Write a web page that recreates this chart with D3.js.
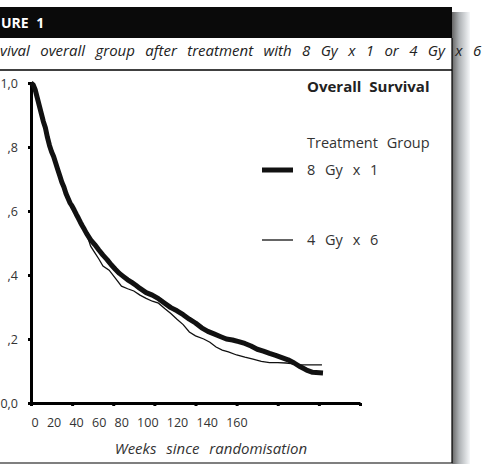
<!DOCTYPE html>
<html>
<head>
<meta charset="utf-8">
<script src="https://cdn.jsdelivr.net/npm/d3@7"></script>
<style>
  body { margin: 0; background: #fff; }
  svg { display: block; font-family: "Open Sans", sans-serif; }
</style>
</head>
<body>
<script>
let width = 490
let height = 464

// 8 Gy x 1 (thick line)
let weeks8 = [0,1,2,3,4,5,6,7,8,9,10,11,12,13,14,15,16,17,18,19,20,21,22,23,24,25,26,27,28,29,31,33,35,37,39,41,43,45,47,49,51,53,56,59,62,65,68,71,74,77,80,83,86,89,92,95,98,101,104,107,110,113,116,119,122,125,128,131,134,137,142]
let surv8 = [1.0,0.995,0.98,0.955,0.93,0.905,0.88,0.86,0.83,0.805,0.785,0.77,0.75,0.73,0.71,0.69,0.675,0.655,0.64,0.625,0.615,0.603,0.59,0.578,0.565,0.553,0.542,0.53,0.52,0.51,0.495,0.478,0.462,0.448,0.432,0.418,0.405,0.395,0.385,0.377,0.368,0.358,0.345,0.337,0.326,0.312,0.298,0.288,0.276,0.262,0.25,0.235,0.224,0.216,0.208,0.2,0.197,0.192,0.186,0.178,0.168,0.162,0.155,0.149,0.142,0.135,0.125,0.113,0.103,0.096,0.094]

// 4 Gy x 6 (thin line)
let weeks4 = [0,1,2,3,4,5,6,7,8,9,10,11,12,13,14,15,16,17,18,19,20,21,22,23,24,25,26,27,29,31,33,35,38,41,44,47,50,53,56,59,62,65,68,71,74,77,80,84,87,90,93,96,100,104,108,112,116,120,124,128,131,136,141.5]
let surv4 = [1.0,0.995,0.98,0.955,0.93,0.905,0.88,0.86,0.83,0.805,0.785,0.77,0.75,0.73,0.71,0.69,0.675,0.655,0.64,0.625,0.615,0.603,0.59,0.578,0.565,0.553,0.542,0.53,0.49,0.47,0.45,0.428,0.415,0.39,0.365,0.357,0.35,0.337,0.327,0.318,0.312,0.295,0.28,0.262,0.245,0.222,0.21,0.2,0.19,0.175,0.165,0.16,0.15,0.143,0.137,0.13,0.126,0.126,0.125,0.122,0.119,0.119,0.119]

let yTicks = [0, 0.2, 0.4, 0.6, 0.8, 1.0]
let yLabels = ["0,0", ",2", ",4", ",6", ",8", "1,0"]
let xTicks = [0, 20, 40, 60, 80, 100, 120, 140, 160]
let xLabels = ["0", "20", "40", "60", "80", "100", "120", "140", "160"]
let seriesNames = ["8 Gy x 1", "4 Gy x 6"]

let svg = d3.select("body")
    .append("svg")
    .attr("width", width)
    .attr("height", height)

// drop shadow on the right
let defs = svg.append("defs")
let grad = defs.append("linearGradient").attr("id", "shade")
grad.append("stop").attr("offset", "0%").attr("stop-color", "#666")
grad.append("stop").attr("offset", "40%").attr("stop-color", "#aeb2b5")
grad.append("stop").attr("offset", "100%").attr("stop-color", "#f6f8fa")

svg.append("rect")
    .attr("x", 452).attr("y", 12)
    .attr("width", 18).attr("height", height - 12)
    .attr("fill", "url(#shade)")

// header bar
svg.append("rect")
    .attr("x", 0).attr("y", 7)
    .attr("width", 452).attr("height", 31)
    .attr("fill", "#0a0a0a")

svg.append("text")
    .attr("x", 1).attr("y", 28)
    .attr("fill", "#fff")
    .attr("font-weight", "bold")
    .attr("font-size", 14)
    .attr("word-spacing", 4)
    .text("URE 1")

svg.append("text")
    .attr("x", 0).attr("y", 56)
    .attr("fill", "#222")
    .attr("font-style", "italic")
    .attr("font-size", 15)
    .attr("word-spacing", 6.5)
    .text("vival overall group after treatment with 8 Gy x 1 or 4 Gy x 6")

// panel frame
svg.append("line")
    .attr("x1", 0).attr("x2", 452).attr("y1", 70).attr("y2", 70)
    .attr("stroke", "#000").attr("stroke-width", 1.5)
svg.append("line")
    .attr("x1", 452).attr("x2", 452).attr("y1", 38).attr("y2", 463)
    .attr("stroke", "#000").attr("stroke-width", 1.2)
svg.append("line")
    .attr("x1", 0).attr("x2", 452).attr("y1", 463).attr("y2", 463)
    .attr("stroke", "#000").attr("stroke-width", 1.2)

let x = d3.scaleLinear().domain([0, 160]).range([31, 360])
let y = d3.scaleLinear().domain([0, 1]).range([403, 83])

let g = svg.append("g")

let yAxis = g.append("g")
    .attr("transform", "translate(31,0)")
    .call(d3.axisLeft(y).tickValues(yTicks).tickSize(3).tickPadding(10)
        .tickFormat((d, i) => yLabels[i]))
yAxis.select(".domain").attr("stroke-width", 3)
yAxis.selectAll(".tick line").attr("stroke-width", 3)
yAxis.selectAll("text")
    .attr("font-size", 12.5)
    .attr("fill", "#333")
    .attr("font-family", "Open Sans, sans-serif")

let xAxis = g.append("g")
    .attr("transform", "translate(0,403)")
    .call(d3.axisBottom(x).tickValues(xTicks).tickSize(3).tickSizeOuter(0).tickFormat(""))
xAxis.select(".domain").attr("stroke-width", 3)
xAxis.selectAll(".tick line").attr("stroke-width", 3)

// crowded tick labels, set as one running line like the original
let xl = svg.append("text")
    .attr("x", 31.5).attr("y", 427)
    .attr("font-size", 12.5)
    .attr("fill", "#333")
    .attr("word-spacing", 5)
xl.selectAll("tspan")
    .data(xLabels)
    .enter()
    .append("tspan")
    .text((d, i) => (i > 0 ? " " : "") + d)

svg.append("text")
    .attr("x", 211).attr("y", 454)
    .attr("text-anchor", "middle")
    .attr("font-style", "italic")
    .attr("font-size", 15)
    .attr("fill", "#333")
    .attr("word-spacing", 6)
    .text("Weeks since randomisation")

let line = d3.line()
    .x(d => x(d[0]))
    .y(d => y(d[1]))

g.append("path")
    .datum(weeks4.map((w, i) => [w, surv4[i]]))
    .attr("fill", "none")
    .attr("stroke", "#111")
    .attr("stroke-width", 1.3)
    .attr("d", line)

g.append("path")
    .datum(weeks8.map((w, i) => [w, surv8[i]]))
    .attr("fill", "none")
    .attr("stroke", "#111")
    .attr("stroke-width", 5)
    .attr("stroke-linejoin", "round")
    .attr("d", line)

// legend
svg.append("text")
    .attr("x", 307).attr("y", 92)
    .attr("font-weight", "bold")
    .attr("font-size", 15)
    .attr("fill", "#222")
    .attr("word-spacing", 4)
    .text("Overall Survival")

svg.append("text")
    .attr("x", 307).attr("y", 148)
    .attr("font-size", 14.5)
    .attr("fill", "#333")
    .attr("word-spacing", 5)
    .text("Treatment Group")

let legend = svg.selectAll(".leg")
    .data(seriesNames)
    .enter()
    .append("g")
    .attr("class", "leg")
    .attr("transform", (d, i) => `translate(0,${i == 0 ? 170 : 240})`)

legend.append("line")
    .attr("x1", 262).attr("x2", 293)
    .attr("stroke", "#111")
    .attr("stroke-width", (d, i) => i == 0 ? 5 : 1.3)

legend.append("text")
    .attr("x", 307).attr("y", 5)
    .attr("font-size", 14.5)
    .attr("fill", "#333")
    .attr("word-spacing", 6)
    .text(d => d)
</script>
</body>
</html>
